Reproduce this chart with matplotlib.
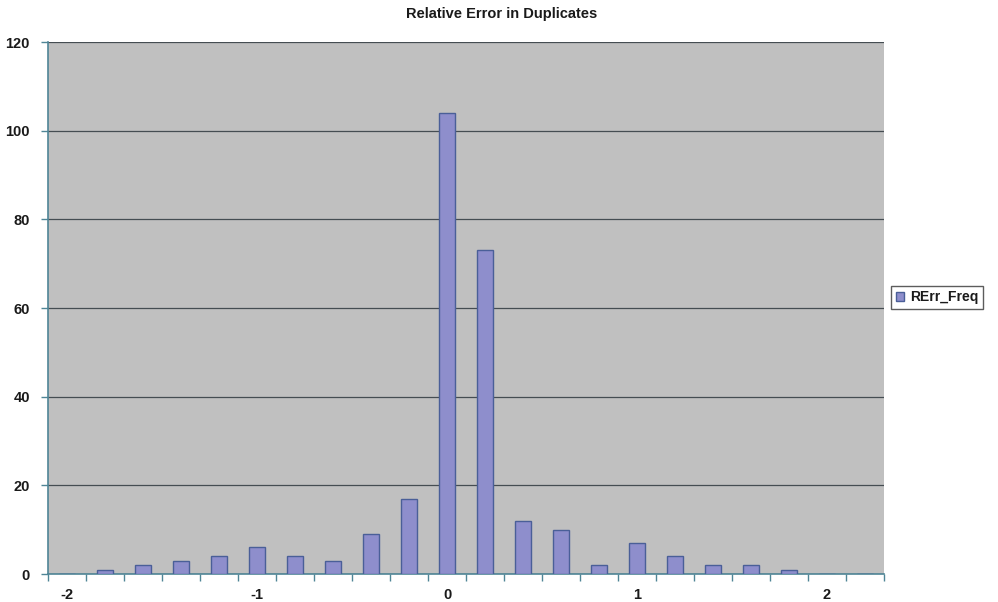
import matplotlib
matplotlib.use("Agg")
import matplotlib.pyplot as plt
import numpy as np

plt.rcParams['font.family'] = ['Liberation Sans', 'DejaVu Sans']

# Histogram bins (relative error) and their counts
bins = [-2.0, -1.8, -1.6, -1.4, -1.2, -1.0, -0.8, -0.6, -0.4, -0.2, 0.0,
        0.2, 0.4, 0.6, 0.8, 1.0, 1.2, 1.4, 1.6, 1.8, 2.0, 2.2]
freq = [0, 1, 2, 3, 4, 6, 4, 3, 9, 17, 104,
        73, 12, 10, 2, 7, 4, 2, 2, 1, 0, 0]
x_labels = [-2, -1, 0, 1, 2]
y_ticks = [0, 20, 40, 60, 80, 100, 120]

axis_col = '#4f8596'
fig = plt.figure(figsize=(9.98, 6.02), dpi=100)
ax = fig.add_axes([0.0481, 0.0465, 0.8377, 0.8837])
ax.set_facecolor('#c0c0c0')

ax.bar(bins, freq, width=0.088, color='#8e8ecc', edgecolor='#4a5f98',
       linewidth=1.0, zorder=3, label='RErr_Freq')

ax.set_xlim(-2.1, 2.3)
ax.set_ylim(0, 120)
ax.set_yticks(y_ticks)
ax.set_yticklabels([str(v) for v in y_ticks])
ax.yaxis.grid(True, color='#454d52', linewidth=0.9, zorder=1)

ax.set_xticks(x_labels)
ax.set_xticklabels([str(v) for v in x_labels])
ax.tick_params(axis='x', which='major', length=0, pad=10)
ax.set_xticks(np.arange(-2.1, 2.31, 0.2), minor=True)
ax.tick_params(axis='x', which='minor', length=5, color=axis_col, width=1)
ax.tick_params(axis='y', length=5, color=axis_col, width=1, pad=8)
ax.tick_params(labelsize=10.5, labelcolor='#1a1a1a')
for lbl in ax.get_xticklabels() + ax.get_yticklabels():
    lbl.set_fontweight('bold')

for side in ['top', 'right']:
    ax.spines[side].set_visible(False)
for side in ['left', 'bottom']:
    ax.spines[side].set_color(axis_col)
    ax.spines[side].set_linewidth(1.2)

fig.text(0.503, 0.976, 'Relative Error in Duplicates', ha='center', va='center',
         fontsize=10.5, fontweight='bold', color='#1a1a1a')

leg = fig.legend(loc='center left', bbox_to_anchor=(0.893, 0.506), frameon=True,
                 fancybox=False, prop={'size': 10, 'weight': 'bold'},
                 handlelength=0.6, handleheight=0.6,
                 handletextpad=0.4, borderpad=0.35, borderaxespad=0)
leg.get_frame().set_edgecolor('#333333')
leg.get_frame().set_linewidth(1)
for t in leg.get_texts():
    t.set_color('#1a1a1a')

fig.savefig('out.png', dpi=100)
